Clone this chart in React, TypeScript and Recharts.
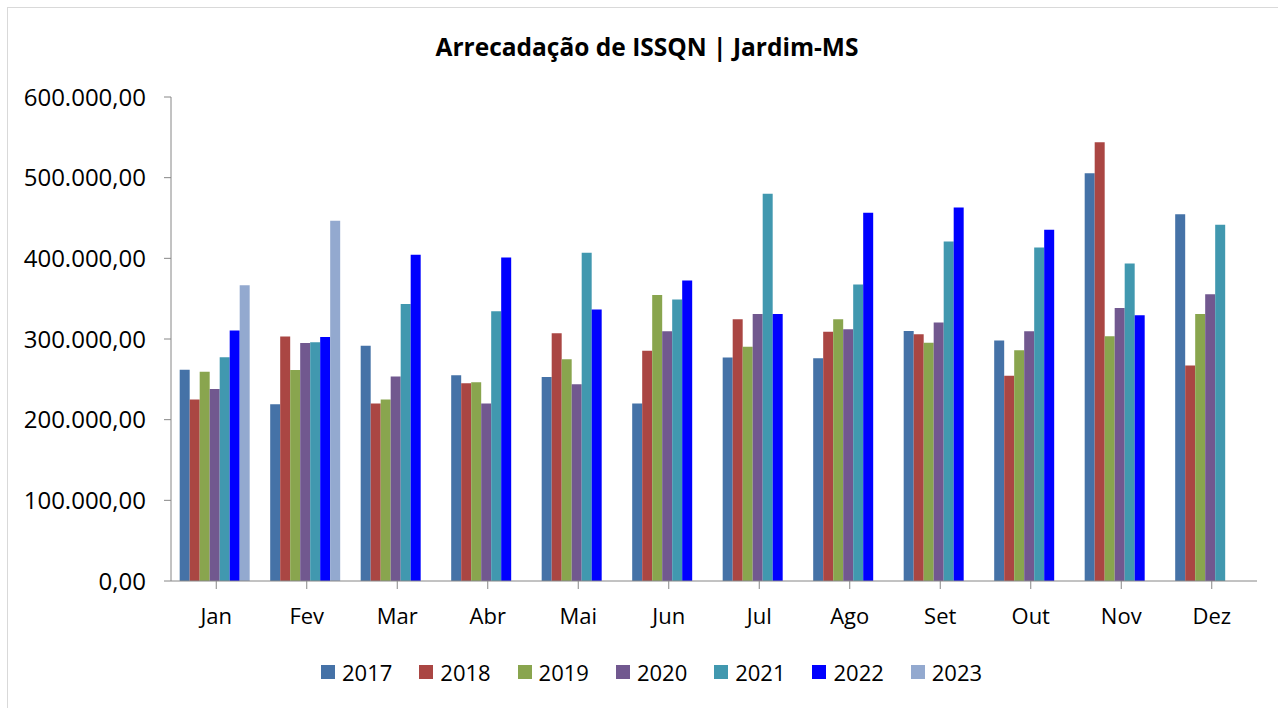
import React from "react";
import { BarChart, Bar, XAxis, YAxis, Legend } from "recharts";

const months = ["Jan", "Fev", "Mar", "Abr", "Mai", "Jun", "Jul", "Ago", "Set", "Out", "Nov", "Dez"];

const y2017 = [262000, 219000, 291500, 255000, 253000, 220000, 277000, 276000, 310000, 298000, 505500, 454500];
const y2018 = [225000, 303000, 220000, 245000, 307000, 285500, 324500, 309000, 306000, 254500, 544000, 267000];
const y2019 = [259500, 261500, 225000, 246500, 275000, 354500, 290500, 324500, 295500, 286000, 303500, 331000];
const y2020 = [238000, 295000, 253500, 220000, 244000, 309500, 331000, 312000, 320500, 309500, 338500, 355500];
const y2021 = [277500, 296000, 343500, 334500, 407000, 349000, 480000, 367500, 421000, 413500, 393500, 441500];
const y2022 = [310500, 302500, 404500, 401000, 336500, 372500, 331000, 456500, 463000, 435500, 329500, null];
const y2023 = [366500, 446500, null, null, null, null, null, null, null, null, null, null];

const yTicks = [0, 100000, 200000, 300000, 400000, 500000, 600000];

const series = [
  { key: "2017", values: y2017, color: "#4572A7" },
  { key: "2018", values: y2018, color: "#AA4643" },
  { key: "2019", values: y2019, color: "#89A54E" },
  { key: "2020", values: y2020, color: "#71588F" },
  { key: "2021", values: y2021, color: "#4198AF" },
  { key: "2022", values: y2022, color: "#0000FF" },
  { key: "2023", values: y2023, color: "#93A9CF" },
];

const data = months.map((m, i) => {
  const row: Record<string, string | number | null> = { name: m };
  series.forEach((s) => {
    row[s.key] = s.values[i];
  });
  return row;
});

const FONT = "'Open Sans', 'DejaVu Sans', sans-serif";
const AXIS = "#868686";

// 600000 -> "600.000,00"
const brl = (v: number) => {
  const int = Math.round(v).toString().replace(/\B(?=(\d{3})+(?!\d))/g, ".");
  return int + ",00";
};

const LegendBox = (props: any) => {
  const { payload } = props;
  return (
    <div style={{ display: "flex", height: 30, alignItems: "center", paddingLeft: 313, fontFamily: FONT }}>
      {(payload || []).map((p: any) => (
        <div key={p.value} style={{ display: "flex", alignItems: "center", width: 98.3 }}>
          <span style={{ width: 14, height: 14, background: p.color, display: "inline-block", marginRight: 7 }} />
          <span style={{ fontSize: 22, lineHeight: "30px", color: "#000" }}>{p.value}</span>
        </div>
      ))}
    </div>
  );
};

const App = () => {
  return (
    <div
      style={{
        position: "absolute",
        left: 7,
        top: 7,
        width: 1271,
        height: 701,
        boxSizing: "border-box",
        borderTop: "1px solid #d9d9d9",
        borderLeft: "1px solid #d9d9d9",
        background: "#fff",
      }}
    >
      <div
        style={{
          position: "absolute",
          top: 22,
          left: 0,
          width: 1270,
          paddingLeft: 8,
          boxSizing: "border-box",
          textAlign: "center",
          fontFamily: FONT,
          fontWeight: 700,
          fontSize: 24.5,
          color: "#000",
        }}
      >
        Arrecadação de ISSQN | Jardim-MS
      </div>
      <BarChart
        width={1270}
        height={700}
        data={data}
        margin={{ top: 89, right: 21, left: 0, bottom: 21 }}
        barCategoryGap="9.6%"
        barGap={0}
      >
        <XAxis
          dataKey="name"
          height={76}
          tickSize={8}
          tickMargin={19}
          stroke={AXIS}
          tick={{ fill: "#000", fontSize: 22, fontFamily: FONT }}
          interval={0}
        />
        <YAxis
          width={163}
          domain={[0, 600000]}
          ticks={yTicks}
          tickSize={7}
          tickMargin={18}
          stroke={AXIS}
          tickFormatter={brl}
          tick={{ fill: "#000", fontSize: 24, fontFamily: FONT }}
        />
        {series.map((s) => (
          <Bar key={s.key} dataKey={s.key} fill={s.color} isAnimationActive={false} />
        ))}
        <Legend verticalAlign="bottom" align="left" content={<LegendBox />} />
      </BarChart>
    </div>
  );
};

export default App;
